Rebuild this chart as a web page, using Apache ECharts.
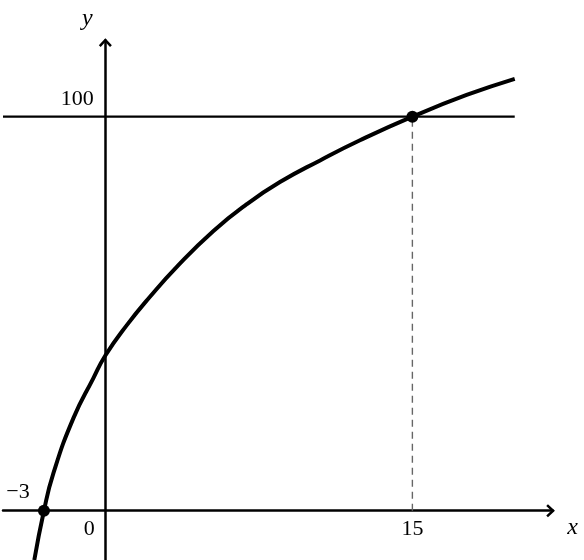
<!DOCTYPE html>
<html>
<head>
<meta charset="utf-8">
<script src="https://cdn.jsdelivr.net/npm/echarts@6/dist/echarts.min.js"></script>
<style>
  html, body { margin: 0; padding: 0; background: #fff; }
  #chart { width: 584px; height: 560px; }
</style>
</head>
<body>
<div id="chart"></div>
<script>
// curve points
var curveX = [-3.47, -3, -2.54, -1.56, -0.59, 0, 1.05, 2.18, 3.49, 5.28, 6.91, 8.53, 10.49, 12.44, 15, 17.65, 20];
var curveY = [-12.5, 0, 9.5, 23.5, 33.6, 39.4, 47.1, 54.3, 61.9, 71.0, 77.8, 83.4, 88.9, 94.0, 100, 105.5, 109.6];

// horizontal line y = 100
var levelX = [-5, 20];
var levelY = 100;

// marked points
var dotX = [-3, 15];
var dotY = [0, 100];

// tick labels
var xTickValues = [0, 15];
var xTickLabels = ['0', '15'];
var yTickValues = [100];
var yTickLabels = ['100'];
var rootLabel = '\u22123';

var FONT = 'Liberation Serif';
var arrowPath = 'path://M0,7 L6.5,0 L13,7 L11.2,8.7 L6.5,3.7 L1.8,8.7 Z';

var chart = echarts.init(document.getElementById('chart'));

function zip(xs, ys) {
    var out = [];
    for (var i = 0; i < xs.length; i++) {
        out.push([xs[i], ys[i]]);
    }
    return out;
}

// text labels, placed relative to the data points
var labelData = [];
labelData.push({ value: [xTickValues[0], 0], label: { formatter: xTickLabels[0], offset: [-16, 18] } });
labelData.push({ value: [xTickValues[1], 0], label: { formatter: xTickLabels[1], offset: [0, 18] } });
labelData.push({ value: [0, yTickValues[0]], label: { formatter: yTickLabels[0], offset: [-28, -17] } });
labelData.push({ value: [dotX[0], 0], label: { formatter: rootLabel, offset: [-26, -19] } });
labelData.push({ value: [21.85, 0], label: { formatter: 'x', fontStyle: 'italic', fontSize: 24, offset: [20, 17] } });
labelData.push({ value: [0, 119.3], label: { formatter: 'y', fontStyle: 'italic', fontSize: 24, offset: [-18, -22] } });

var option = {
    backgroundColor: '#fff',
    animation: false,
    grid: {
        left: 3,
        right: 31.4,
        top: 40.6,
        bottom: 0
    },
    xAxis: {
        type: 'value',
        min: -5,
        max: 21.85,
        splitLine: { show: false },
        axisTick: { show: false },
        axisLabel: { show: false },
        axisLine: {
            onZero: true,
            symbol: ['none', arrowPath],
            symbolSize: [13, 8.7],
            symbolOffset: [0, -2],
            lineStyle: { color: '#000', width: 2.5 }
        }
    },
    yAxis: {
        type: 'value',
        min: -12.5,
        max: 119.3,
        splitLine: { show: false },
        axisTick: { show: false },
        axisLabel: { show: false },
        axisLine: {
            onZero: true,
            symbol: ['none', arrowPath],
            symbolSize: [13, 8.7],
            symbolOffset: [0, -2],
            lineStyle: { color: '#000', width: 2.5 }
        }
    },
    series: [
        {
            // y = 100 level
            type: 'line',
            data: zip(levelX, [levelY, levelY]),
            symbol: 'none',
            lineStyle: { color: '#000', width: 2.2 },
            z: 3
        },
        {
            // dashed drop line
            type: 'line',
            data: [[dotX[1], 0], [dotX[1], dotY[1]]],
            symbol: 'none',
            lineStyle: { color: '#666', width: 1.4, type: [7, 5] },
            z: 3
        },
        {
            type: 'line',
            data: zip(curveX, curveY),
            symbol: 'none',
            smooth: 0.5,
            lineStyle: { color: '#000', width: 4 },
            z: 4
        },
        {
            type: 'scatter',
            data: zip(dotX, dotY),
            symbolSize: 12,
            itemStyle: { color: '#000', opacity: 1 },
            z: 5
        },
        {
            type: 'scatter',
            data: labelData,
            symbolSize: 0,
            silent: true,
            itemStyle: { opacity: 1 },
            label: {
                show: true,
                position: 'inside',
                align: 'center',
                verticalAlign: 'middle',
                color: '#000',
                fontFamily: FONT,
                fontSize: 22
            },
            z: 6
        }
    ]
};

chart.setOption(option);
</script>
</body>
</html>
